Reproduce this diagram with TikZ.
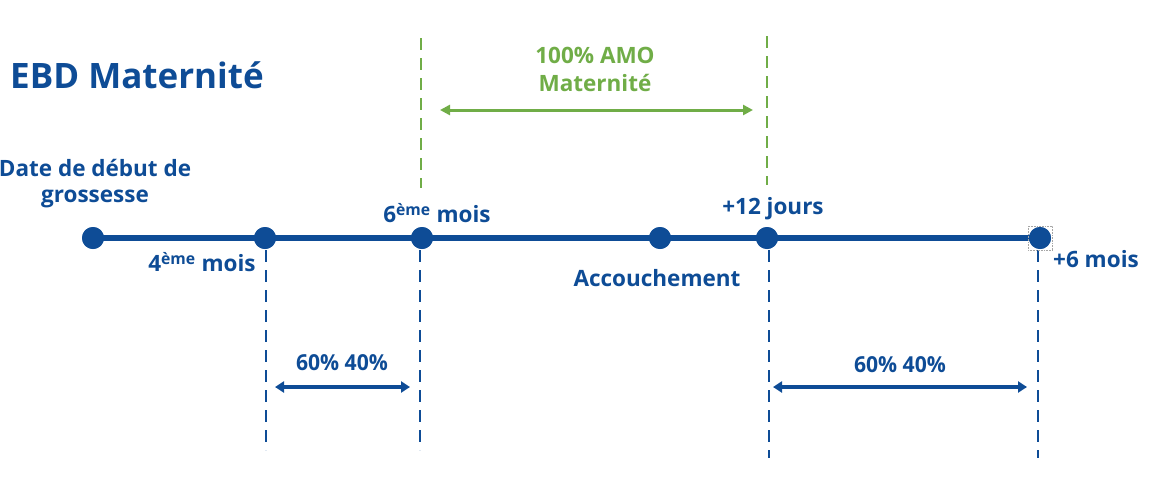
\documentclass[tikz,border=0pt]{standalone}
\usepackage{fontspec}
\setmainfont{Open Sans}
\usetikzlibrary{arrows.meta}
\definecolor{ebdblue}{HTML}{0E4C96}
\definecolor{ebdgreen}{HTML}{70AD47}
\tikzset{
  x=1pt, y=-1pt,
  tl/.style={line width=6pt, ebdblue},
  dot/.style={circle, fill=ebdblue, inner sep=0pt, minimum size=22pt},
  bluedash/.style={ebdblue, line width=1.8pt, dash pattern=on 12pt off 8pt},
  greendash/.style={ebdgreen, line width=2pt, dash pattern=on 12pt off 8pt},
  lbl/.style={text=ebdblue, font=\fontsize{22.5}{26}\selectfont\bfseries, align=center, inner sep=0pt},
  glbl/.style={text=ebdgreen, font=\fontsize{22.5}{28}\selectfont\bfseries, align=center, inner sep=0pt},
  pct/.style={text=ebdblue, font=\fontsize{22}{26}\selectfont\bfseries\addfontfeature{FakeStretch=0.96}, inner sep=0pt},
  garrow/.style={ebdgreen, line width=3pt, {Triangle[length=10pt,width=10pt]}-{Triangle[length=10pt,width=10pt]}},
  barrow/.style={ebdblue, line width=4pt, {Triangle[length=9pt,width=11pt]}-{Triangle[length=9pt,width=11pt]}},
}
\begin{document}
\begin{tikzpicture}
\useasboundingbox (0,0) rectangle (1149,488);
% title
\node[anchor=west, text=ebdblue, font=\fontsize{35}{40}\selectfont\bfseries, inner sep=0pt] (title) at (10,75) {EBD Maternité};
% green dashed lines
\coordinate (g1t) at (421,38); \coordinate (g1b) at (421,188);
\coordinate (g2t) at (767,36); \coordinate (g2b) at (767,185);
\draw[greendash] (g1t) -- (g1b);
\draw[greendash] (g2t) -- (g2b);
\coordinate (ga) at (440,110); \coordinate (gb) at (753,110);
\draw[garrow] (ga) -- (gb);
\node[glbl] (amo) at (595,69) {100\% AMO\\Maternité};
% blue dashed lines
\coordinate (b1t) at (266,250); \coordinate (b1b) at (266,450);
\coordinate (b2t) at (420,250); \coordinate (b2b) at (420,450);
\coordinate (b3t) at (769,250); \coordinate (b3b) at (769,458);
\coordinate (b4t) at (1038,250); \coordinate (b4b) at (1038,458);
\draw[bluedash] (b1t) -- (b1b);
\draw[bluedash] (b2t) -- (b2b);
\draw[bluedash] (b3t) -- (b3b);
\draw[bluedash] (b4t) -- (b4b);
% timeline
\node[dot] (d0) at (93,238) {};
\node[dot] (d1) at (265,238) {};
\node[dot] (d2) at (422,238) {};
\node[dot] (d3) at (660,238) {};
\node[dot] (d4) at (767,238) {};
\node[dot] (d5) at (1040,238) {};
\draw[tl] (d0.center) -- (d5.center);
\foreach \n in {d0,d1,d2,d3,d4,d5} \node[dot] at (\n) {};
\draw[gray!70, line width=0.6pt, densely dotted] (1028,226) rectangle (1052,250);
% labels
\node[lbl] (l0) at (95,184) {Date de début de\\grossesse};
\node[lbl] (l1) at (202,262) {4\textsuperscript{ème} mois};
\node[lbl] (l2) at (437,213) {6\textsuperscript{ème} mois};
\node[lbl] (l3) at (657,278) {Accouchement};
\node[lbl] (l4) at (773,209) {+12 jours};
\node[lbl] (l5) at (1096,259) {+6 mois};
% blue arrows
\coordinate (a1) at (275,387); \coordinate (a2) at (410,387);
\coordinate (a3) at (773,387); \coordinate (a4) at (1027,387);
\draw[barrow] (a1) -- (a2);
\draw[barrow] (a3) -- (a4);
\node[pct] (p1) at (342,363) {60\% 40\%};
\node[pct] (p2) at (900,365) {60\% 40\%};
\end{tikzpicture}
\end{document}
